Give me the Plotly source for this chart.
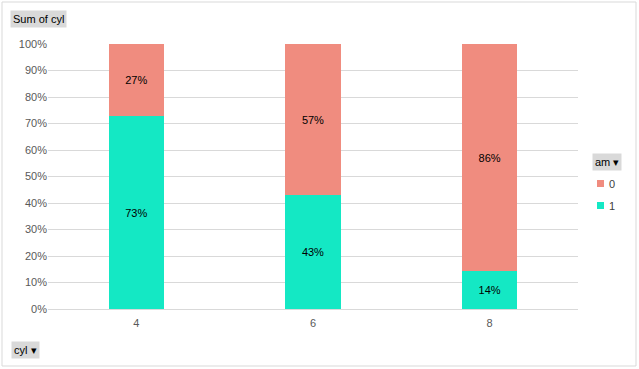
import plotly.graph_objects as go

categories = ["4", "6", "8"]
am0_pct = [27.3, 57.1, 85.7]
am1_pct = [72.7, 42.9, 14.3]
am0_labels = ["27%", "57%", "86%"]
am1_labels = ["73%", "43%", "14%"]
y_ticks = [0, 10, 20, 30, 40, 50, 60, 70, 80, 90, 100]
y_ticktext = [f"{v}%" for v in y_ticks]
legend_names = ["0", "1"]

FONT = "Liberation Sans"
C0 = "#F08C7F"
C1 = "#14E8C4"

fig = go.Figure()
fig.add_trace(go.Bar(x=categories, y=am1_pct, name="1", marker=dict(color=C1, line=dict(width=0)),
                     text=am1_labels, textposition="inside", insidetextanchor="middle",
                     textfont=dict(color="#000000", size=11, family=FONT), width=0.315))
fig.add_trace(go.Bar(x=categories, y=am0_pct, name="0", marker=dict(color=C0, line=dict(width=0)),
                     text=am0_labels, textposition="inside", insidetextanchor="middle",
                     textfont=dict(color="#000000", size=11, family=FONT), width=0.315))

L, R, T, B = 48, 61, 44, 60
W, H = 639, 369
pw, ph = W - L - R, H - T - B

def px_x(x):
    return (x - L) / pw

def px_y(y):
    return (H - B - y) / ph

shapes = [dict(type="rect", xref="paper", yref="paper",
               x0=px_x(2), x1=px_x(636), y0=px_y(366), y1=px_y(2),
               line=dict(color="#D9D9D9", width=1), fillcolor="rgba(0,0,0,0)", layer="below")]
annotations = [
    dict(text="Sum of cyl", xref="paper", yref="paper", x=px_x(10), y=px_y(19.5),
         xanchor="left", yanchor="middle", showarrow=False, bgcolor="#D9D9D9",
         font=dict(size=11, color="#000000", family=FONT), borderpad=2),
    dict(text="am \u25BE", xref="paper", yref="paper", x=px_x(592), y=px_y(162),
         xanchor="left", yanchor="middle", showarrow=False, bgcolor="#D9D9D9",
         font=dict(size=11, color="#000000", family=FONT), borderpad=2),
    dict(text="cyl \u25BE", xref="paper", yref="paper", x=px_x(11), y=px_y(350),
         xanchor="left", yanchor="middle", showarrow=False, bgcolor="#D9D9D9",
         font=dict(size=11, color="#000000", family=FONT), borderpad=2),
]
for name, color, cy in zip(legend_names, [C0, C1], [183.5, 205.5]):
    shapes.append(dict(type="rect", xref="paper", yref="paper",
                       x0=px_x(597), x1=px_x(604), y0=px_y(cy + 3.5), y1=px_y(cy - 3.5),
                       fillcolor=color, line=dict(width=0)))
    annotations.append(dict(text=name, xref="paper", yref="paper", x=px_x(607), y=px_y(cy),
                            xanchor="left", yanchor="middle", showarrow=False,
                            font=dict(size=11, color="#404040", family=FONT)))

fig.update_layout(
    width=W, height=H,
    margin=dict(l=L, r=R, t=T, b=B, autoexpand=False),
    barmode="stack",
    plot_bgcolor="white", paper_bgcolor="white",
    font=dict(family=FONT, size=11, color="#595959"),
    uniformtext=dict(minsize=8, mode="show"),
    showlegend=False,
    xaxis=dict(type="category", range=[-0.5, 2.5], showgrid=False,
               showline=True, linecolor="#D9D9D9", linewidth=1,
               ticks="", automargin=False, ticklabelstandoff=4,
               tickfont=dict(size=11, color="#595959")),
    yaxis=dict(range=[0, 100], tickvals=y_ticks, ticktext=y_ticktext,
               showgrid=True, gridcolor="#D9D9D9", gridwidth=1,
               zeroline=False, showline=False, ticks="", automargin=False,
               tickfont=dict(size=11, color="#595959")),
    shapes=shapes,
    annotations=annotations,
)

fig.write_html("out.html", config={"displayModeBar": False},
               post_script="document.body.style.margin='0';document.body.style.padding='0';")
